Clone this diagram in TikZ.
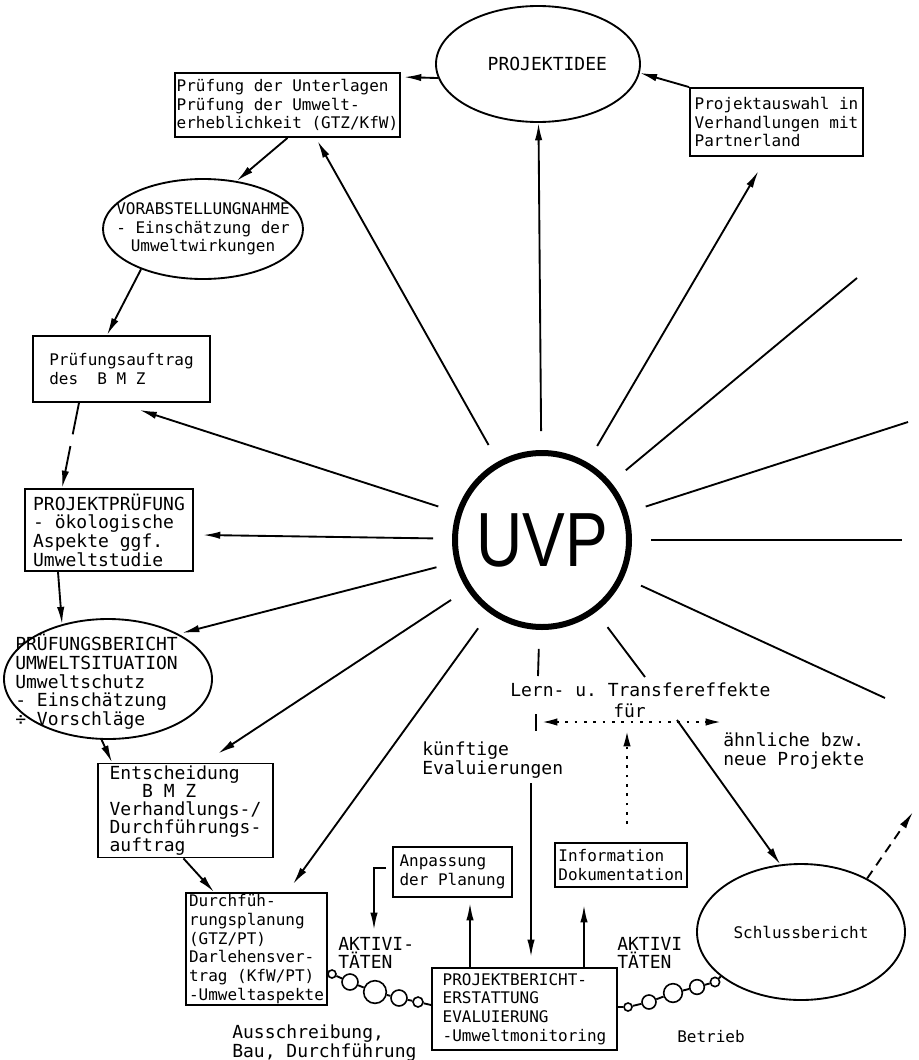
\documentclass[tikz,border=0pt]{standalone}
\usepackage{fontspec}
\usepackage{graphicx}
\setmonofont{DejaVu Sans Mono}
\newfontfamily\uvpfont{Liberation Sans}
\usetikzlibrary{arrows.meta,shapes.geometric,calc}
\begin{document}
\begin{tikzpicture}[x=0.75pt,y=-0.75pt,
  lw/.style={line width=1.4pt},
  nt/.style={font=\ttfamily\fontsize{12}{14}\selectfont},
  wt/.style={font=\ttfamily\fontsize{13.5}{14}\selectfont},
  box/.style={draw, lw, rectangle, align=left, inner sep=0pt},
  ell/.style={draw, lw, ellipse, inner sep=0pt},
  tip/.style={-{Latex[length=13pt,width=5.5pt]}},
  arr/.style={lw, tip},
  ray/.style={lw},
  dotl/.style={line width=2pt, dash pattern=on 2pt off 5pt},
  bead/.style={draw, line width=1.2pt, circle, fill=white, inner sep=0pt},
  lab/.style={align=left, inner sep=0pt}
]
\useasboundingbox (0,0) rectangle (918,1060);

% ---------- nodes ----------
\node[ell, minimum width=153pt, minimum height=87pt,
      label={[wt, xshift=7pt]center:PROJEKTIDEE}] (idee) at (538,64) {};
\node[box, nt, minimum width=168.75pt, minimum height=48pt] (pruef) at (287.5,105)
  {Prüfung der Unterlagen\\Prüfung der Umwelt-\\erheblichkeit (GTZ/KfW)};
\node[box, nt, minimum width=129.75pt, minimum height=51pt] (ausw) at (776.5,122)
  {Projektauswahl in\\Verhandlungen mit\\Partnerland};
\node[ell, minimum width=150pt, minimum height=75pt,
      label={[nt, align=center]center:VORABSTELLUNGNAHME\\- Einschätzung der\\Umweltwirkungen}] (vorab) at (203,229) {};
\node[box, nt, minimum width=132.75pt, minimum height=49.5pt] (auftr) at (121.5,369)
  {Prüfungsauftrag\\des\ \ B M Z};
\node[box, wt, minimum width=126pt, minimum height=61.5pt] (ppr) at (109,530)
  {PROJEKTPRÜFUNG\\- ökologische\\Aspekte ggf.\\Umweltstudie};
\node[ell, minimum width=156pt, minimum height=90pt] (pber) at (108,679) {};
\node[lab, wt, anchor=west] (pbertext) at (15,682)
  {PRÜFUNGSBERICHT\\UMWELTSITUATION\\Umweltschutz\\- Einschätzung\\÷ Vorschläge};
\node[box, wt, font=\ttfamily\fontsize{13.5}{13.4}\selectfont, minimum width=131.25pt, minimum height=70.5pt] (ent) at (185.5,810.5)
  {Entscheidung\\\phantom{xxx}B M Z\\Verhandlungs-/\\Durchführungs-\\auftrag};
\node[box, nt, minimum width=105.75pt, minimum height=84pt] (dfp) at (256.5,949)
  {Durchfüh-\\rungsplanung\\(GTZ/PT)\\Darlehensver-\\trag (KfW/PT)\\-Umweltaspekte};
\node[box, nt, minimum width=89.25pt, minimum height=37.5pt] (anp) at (452.5,872)
  {Anpassung\\der Planung};
\node[box, nt, minimum width=99pt, minimum height=33pt] (info) at (621,865)
  {Information\\Dokumentation};
\node[box, nt, minimum width=138.75pt, minimum height=61.5pt] (pbe) at (524.5,1009)
  {PROJEKTBERICHT-\\ERSTATTUNG\\EVALUIERUNG\\-Umweltmonitoring};
\node[ell, minimum width=156pt, minimum height=102pt,
      label={[nt]center:Schlussbericht}] (schl) at (801,932) {};
\node[draw, circle, line width=4.5pt, minimum size=130.5pt, inner sep=0pt, outer sep=16.5pt,
      font=\uvpfont\fontsize{48}{48}\selectfont] (uvp) at (542,540) {\scalebox{1}[1.2]{UVP}};

% labels
\node[lab, wt, anchor=west] (akt1) at (338,953) {AKTIVI-\\TÄTEN};
\node[lab, wt, anchor=west] (akt2) at (617,953) {AKTIVI\\TÄTEN};
\node[lab, wt, anchor=west] (aus) at (232,1043) {Ausschreibung,\\Bau, Durchführung};
\node[lab, nt, anchor=west] (betr) at (677,1037) {Betrieb};
\node[lab, wt, anchor=west] (kuenf) at (422,760) {künftige\\Evaluierungen};
\node[lab, wt, anchor=west] (lern) at (510,690) {Lern- u. Transfereffekte};
\node[lab, wt, anchor=west] (fuer) at (613,711) {für};
\node[lab, wt, anchor=west] (aehn) at (723,751) {ähnliche bzw.\\neue Projekte};

% ---------- cycle connectors ----------
\draw[arr] (idee.188) -- ($(pruef.north east)+(3,5)$);
\draw[arr] (ausw.north west) -- (idee.355);
\draw[arr] (pruef.south) -- (vorab.55);
\draw[arr] (vorab.213) -- ($(auftr.north)+(-14.5,0)$);
\draw[arr, dash pattern=on 24pt off 9pt] ($(auftr.south)+(-42.5,0)$) -- ($(ppr.north)+(-47,0)$);
\draw[arr] ($(ppr.south)+(-51,0)$) -- (pber.130);
\draw[arr] (pber.264) -- ($(ent.north west)+(15,0)$);
\draw[arr] ($(ent.south)+(-2,0)$) -- ($(dfp.north west)+(29,0)$);

% ---------- radial connectors ----------
\draw[arr] (uvp) -- (idee);
\draw[arr] (uvp) -- ($(pruef.south)+(30,3)$);
\draw[arr] (uvp) -- ($(ausw.south)+(-18,14)$);
\draw[arr] (uvp) -- ($(auftr.south)+(18,7)$);
\draw[arr] (uvp) -- ($(ppr.east)+(9,5)$);
\draw[arr] (uvp) -- ($(pber.center)+(74,-46)$);
\draw[arr] (uvp) -- ($(ent.north)+(32.5,-9)$);
\draw[arr] (uvp) -- ($(dfp.north)+(36.5,-8)$);
\coordinate (ra) at (857,278);
\coordinate (rb) at (908,422);
\coordinate (rc) at (902,540);
\coordinate (rd) at (885,698);
\draw[ray] (uvp) -- (ra);
\draw[ray] (uvp) -- (rb);
\draw[ray] (uvp) -- (rc);
\draw[ray] (uvp) -- (rd);
\coordinate (dn) at (538,676);
\draw[ray] (uvp) -- (dn);
\coordinate (lt1) at (645,677);
\coordinate (lt2) at (677,720);
\draw[ray] (uvp) -- (lt1);
\draw[arr] (lt2) -- (schl.107);

% ---------- transfer effects ----------
\coordinate (dl) at (540,722);
\coordinate (dr) at (723,722);
\draw[dotl, {Latex[length=13pt,width=5.5pt]}-{Latex[length=13pt,width=5.5pt]}] (dl) -- (dr);
\coordinate (tk1) at (536,714);
\coordinate (tk2) at (536,731);
\draw[lw] (tk1) -- (tk2);
\coordinate (dv) at (627,729);
\draw[dotl, tip] ($(info.north)+(6,-18)$) -- (dv);

% ---------- monitoring ----------
\coordinate (ke) at (531,783);
\draw[arr] (ke) -- ($(pbe.north)+(6.5,-10)$);
\draw[arr] ($(pbe.north)+(-54.5,0)$) -- ($(anp.south)+(17.5,5)$);
\draw[arr] ($(pbe.north)+(59.5,0)$) -- ($(info.south)+(-37,17)$);
\coordinate (brk) at (374,930);
\draw[arr] ($(anp.west)+(-6,-4)$) -| (brk);

% ---------- bead chains ----------
\node[bead, minimum size=6pt] (lb1) at (332,974) {};
\node[bead, minimum size=12pt] (lb2) at (350,982) {};
\node[bead, minimum size=17pt] (lb3) at (375,992) {};
\node[bead, minimum size=12pt] (lb4) at (399,998) {};
\node[bead, minimum size=7.5pt] (lb5) at (418,1002) {};
\draw[lw] ($(dfp.east)+(0,22)$) -- (lb1) -- (lb2) -- (lb3) -- (lb4) -- (lb5) -- ($(pbe.west)+(0,-4)$);
\node[bead, minimum size=6pt] (rb1) at (628,1007) {};
\node[bead, minimum size=10.5pt] (rb2) at (649,1002) {};
\node[bead, minimum size=14pt] (rb3) at (673,993) {};
\node[bead, minimum size=11pt] (rb4) at (697,987) {};
\node[bead, minimum size=7pt] (rb5) at (715,982) {};
\draw[lw] ($(pbe.east)+(0,-2)$) -- (rb1) -- (rb2) -- (rb3) -- (rb4) -- (rb5) -- (schl.209);

% ---------- outgoing ----------
\coordinate (se) at (913,812);
\draw[lw, dash pattern=on 7pt off 5pt, tip] (schl.39) -- (se);
\end{tikzpicture}
\end{document}
